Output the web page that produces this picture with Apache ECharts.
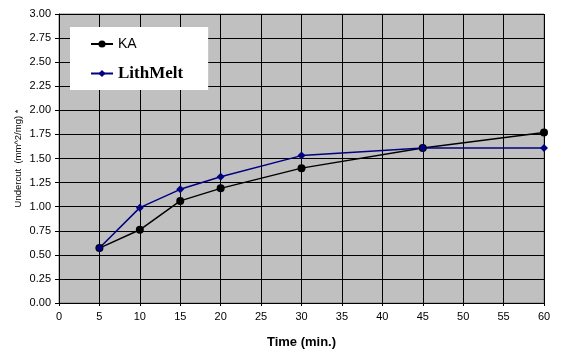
<!DOCTYPE html>
<html>
<head>
<meta charset="utf-8">
<script src="https://cdn.jsdelivr.net/npm/echarts@6/dist/echarts.min.js"></script>
<style>html,body{margin:0;padding:0;background:#fff}#c{width:561px;height:358px}</style>
</head>
<body>
<div id="c"></div>
<script>
var times = [5, 10, 15, 20, 30, 45, 60];
var kaValues = [0.57, 0.76, 1.06, 1.19, 1.40, 1.61, 1.77];
var lithMeltValues = [0.57, 0.99, 1.18, 1.31, 1.53, 1.61, 1.61];
var seriesNames = ['KA', 'LithMelt'];
var xTitle = 'Time (min.)';
var yTitle = 'Undercut  (mm^2/mg) *';

function pairs(xs, ys) { return xs.map(function (x, i) { return [x, ys[i]]; }); }

var chart = echarts.init(document.getElementById('c'), null, {renderer: 'canvas'});
var labelFont = {color: '#000', fontFamily: 'Liberation Sans, Arial, sans-serif', fontSize: 11};
chart.setOption({
  animation: false,
  backgroundColor: '#fff',
  grid: {left: 59, right: 17, top: 14, bottom: 55, show: true, backgroundColor: '#c0c0c0', borderColor: '#808080', borderWidth: 1},
  legend: {
    orient: 'vertical', left: 70, top: 27,
    backgroundColor: '#fff', padding: [10, 25, 8, 20], itemGap: 14,
    itemWidth: 22, itemHeight: 9,
    data: [
      {name: seriesNames[0], textStyle: {fontFamily: 'Liberation Sans, Arial, sans-serif', fontSize: 14, color: '#000'}},
      {name: seriesNames[1], textStyle: {fontFamily: 'Liberation Serif, Times New Roman, serif', fontWeight: 'bold', fontSize: 17, color: '#000'}}
    ]
  },
  xAxis: {
    type: 'value', min: 0, max: 60, interval: 5,
    name: xTitle, nameLocation: 'middle', nameGap: 33,
    nameTextStyle: {fontFamily: 'Liberation Sans, Arial, sans-serif', fontWeight: 'bold', fontSize: 13, color: '#000'},
    axisLine: {show: true, lineStyle: {color: '#000', width: 1}},
    axisTick: {show: true, length: 3, lineStyle: {color: '#000'}},
    axisLabel: Object.assign({margin: 8}, labelFont),
    splitLine: {show: true, lineStyle: {color: '#000', width: 1}}
  },
  yAxis: {
    type: 'value', min: 0, max: 3, interval: 0.25,
    name: yTitle, nameLocation: 'middle', nameGap: 36, nameRotate: 90, nameMoveOverlap: false,
    nameTextStyle: {fontFamily: 'Liberation Sans, Arial, sans-serif', fontSize: 9.5, color: '#000'},
    axisLine: {show: true, lineStyle: {color: '#000', width: 1}},
    axisTick: {show: true, length: 4, lineStyle: {color: '#000'}},
    axisLabel: Object.assign({margin: 8, formatter: function (v) { return v.toFixed(2); }}, labelFont),
    splitLine: {show: true, lineStyle: {color: '#000', width: 1}}
  },
  series: [
    {name: seriesNames[0], type: 'line', data: pairs(times, kaValues),
     symbol: 'circle', symbolSize: 8, itemStyle: {color: '#000'}, lineStyle: {color: '#000', width: 1.5}},
    {name: seriesNames[1], type: 'line', data: pairs(times, lithMeltValues),
     symbol: 'diamond', symbolSize: 8, itemStyle: {color: '#000080'}, lineStyle: {color: '#000080', width: 1.5}}
  ]
});
</script>
</body>
</html>
